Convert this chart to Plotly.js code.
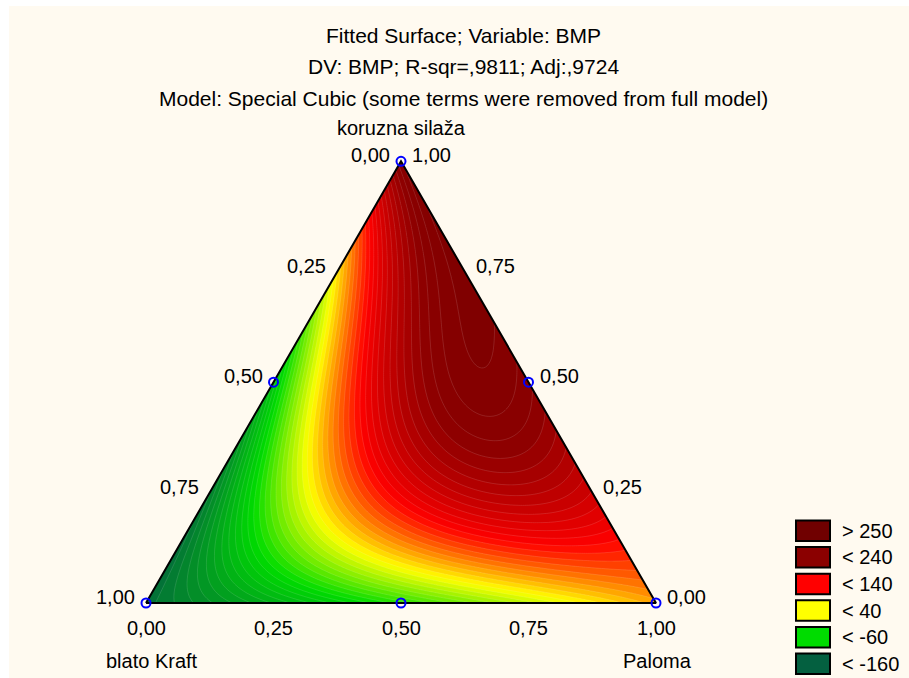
<!DOCTYPE html>
<html><head><meta charset="utf-8">
<script src="https://cdn.plot.ly/plotly-3.0.1.min.js"></script>
<style>html,body{margin:0;padding:0;background:#fff;} #chart{width:909px;height:678px;}</style>
</head><body><div id="chart"></div>
<script>
// ---------- data ----------
const titleLines = ['Fitted Surface; Variable: BMP', 'DV: BMP; R-sqr=,9811; Adj:,9724', 'Model: Special Cubic (some terms were removed from full model)'];
const componentNames = ['koruzna silaža', 'blato Kraft', 'Paloma']; // A = top, B = left, C = right
// fitted special cubic model
const coefLinear = [248, -175, 75];      // A, B, C
const coefQuad = [-490, 325, 20];        // A*B, A*C, B*C
const coefCubic = [4000];                // A*B*C
// design points (mixture fractions)
const designA = [1, 0, 0, 0.5, 0.5, 0];
const designB = [0, 1, 0, 0.5, 0, 0.5];
const designC = [0, 0, 1, 0, 0.5, 0.5];
// ternary tick labels
const tickValues = [0, 0.25, 0.5, 0.75, 1];
const tickLabels = ['0,00', '0,25', '0,50', '0,75', '1,00'];
// legend
const legendLabels = ['> 250', '< 240', '< 140', '< 40', '< -60', '< -160'];
const legendColors = ['#700000', '#8B0000', '#FF0000', '#FFFF00', '#00DC00', '#046040'];
// colour ramp of the surface
const levelValues = [-195, -60, 40, 140, 235, 265];
const levelColors = ['#046040', '#00DC00', '#FFFF00', '#FF0000', '#8E0000', '#800000'];

// ---------- helpers ----------
const H = Math.sqrt(3) / 2;
const tx = (a, b, c) => c + a / 2;
const ty = (a, b, c) => a * H;
function model(a, b, c) {
  return coefLinear[0] * a + coefLinear[1] * b + coefLinear[2] * c +
    coefQuad[0] * a * b + coefQuad[1] * a * c + coefQuad[2] * b * c +
    coefCubic[0] * a * b * c;
}
const FONT = 'Liberation Sans, Arial, sans-serif';
const CREAM = '#FFFAF0';

// grid for the fitted surface
const nx = 261, ny = 231;
const gx = [], gy = [], gz = [];
for (let i = 0; i < nx; i++) gx.push(i / (nx - 1));
for (let j = 0; j < ny; j++) gy.push(j / (ny - 1) * H);
for (let j = 0; j < ny; j++) {
  const row = [];
  const a = gy[j] / H;
  for (let i = 0; i < nx; i++) {
    const c = gx[i] - a / 2;
    const b = 1 - a - c;
    row.push(model(a, b, c));
  }
  gz.push(row);
}
const zmin = levelValues[0], zmax = levelValues[levelValues.length - 1];
const colorscale = levelValues.map((v, k) => [(v - zmin) / (zmax - zmin), levelColors[k]]);

const traces = [];
traces.push({
  type: 'contour', x: gx, y: gy, z: gz, zmin: zmin, zmax: zmax, colorscale: colorscale,
  showscale: false, hoverinfo: 'skip',
  contours: {coloring: 'fill', start: -400, end: 400, size: 10, showlines: true},
  line: {width: 0.6, color: 'rgba(255,255,255,0.22)', smoothing: 0}
});
// masks outside the triangle
const e = 0.03;
traces.push({
  type: 'scatter', mode: 'lines', fill: 'toself', fillcolor: CREAM, line: {width: 0}, hoverinfo: 'skip',
  x: [-e, 0, 0.5, 0.5, -e, -e, null, 1 + e, 1, 0.5, 0.5, 1 + e, 1 + e],
  y: [-e, 0, H, H + e, H + e, -e, null, -e, 0, H, H + e, H + e, -e]
});
// triangle outline
traces.push({
  type: 'scatter', mode: 'lines', hoverinfo: 'skip', line: {color: '#000', width: 2},
  x: [tx(0,1,0), tx(1,0,0), tx(0,0,1), tx(0,1,0)],
  y: [ty(0,1,0), ty(1,0,0), ty(0,0,1), ty(0,1,0)]
});
// design points
traces.push({
  type: 'scatter', mode: 'markers', hoverinfo: 'skip',
  x: designA.map((a, k) => tx(a, designB[k], designC[k])),
  y: designA.map((a, k) => ty(a, designB[k], designC[k])),
  marker: {symbol: 'circle-open', size: 9, color: '#0000FF', line: {width: 2, color: '#0000FF'}},
  cliponaxis: false
});

const ann = [];
const tf = {family: FONT, size: 20, color: '#000'};
// left edge (blato Kraft fraction)
tickValues.forEach((v, k) => {
  const a = 1 - v;
  ann.push({xref: 'x', yref: 'y', x: tx(a, v, 0), y: ty(a, v, 0), text: tickLabels[k], showarrow: false,
    xanchor: 'right', yanchor: 'middle', xshift: -9, yshift: 6, font: tf});
});
// right edge (koruzna silaža fraction)
tickValues.forEach((v, k) => {
  ann.push({xref: 'x', yref: 'y', x: tx(v, 0, 1 - v), y: ty(v, 0, 1 - v), text: tickLabels[k], showarrow: false,
    xanchor: 'left', yanchor: 'middle', xshift: 9, yshift: 6, font: tf});
});
// bottom edge (Paloma fraction)
tickValues.forEach((v, k) => {
  ann.push({xref: 'x', yref: 'y', x: tx(0, 1 - v, v), y: 0, text: tickLabels[k], showarrow: false,
    xanchor: 'center', yanchor: 'middle', yshift: -25, font: tf});
});
// component names
ann.push({xref: 'x', yref: 'y', x: tx(1,0,0), y: ty(1,0,0), text: componentNames[0], showarrow: false,
  xanchor: 'center', yanchor: 'middle', yshift: 33, font: tf});
ann.push({xref: 'x', yref: 'y', x: tx(0,1,0), y: 0, text: componentNames[1], showarrow: false,
  xanchor: 'center', yanchor: 'middle', xshift: 6, yshift: -58, font: tf});
ann.push({xref: 'x', yref: 'y', x: tx(0,0,1), y: 0, text: componentNames[2], showarrow: false,
  xanchor: 'center', yanchor: 'middle', xshift: 1, yshift: -58, font: tf});
// title lines
const titleY = [35, 66, 98];
titleLines.forEach((t, k) => {
  ann.push({xref: 'paper', yref: 'paper', x: 463 / 909, y: 1 - titleY[k] / 678, text: t, showarrow: false,
    xanchor: 'center', yanchor: 'middle', font: {family: FONT, size: 21, color: '#000'}});
});

// legend swatches
const shapes = [{type: 'rect', xref: 'paper', yref: 'paper', x0: 9 / 909, x1: 1, y0: 0, y1: 1 - 6 / 678,
  fillcolor: CREAM, line: {width: 0}, layer: 'below'}];
const legTop = 520.5, legStep = 26.6, legH = 20.5;
legendLabels.forEach((lab, k) => {
  const y0 = legTop + k * legStep;
  shapes.push({type: 'rect', xref: 'paper', yref: 'paper', x0: 796 / 909, x1: 830 / 909,
    y0: 1 - (y0 + legH) / 678, y1: 1 - y0 / 678, fillcolor: legendColors[k], line: {color: '#000', width: 2}});
  ann.push({xref: 'paper', yref: 'paper', x: 840 / 909, y: 1 - (y0 + legH / 2) / 678, text: lab, showarrow: false,
    xanchor: 'left', yanchor: 'middle', font: tf});
});

const layout = {
  width: 909, height: 678, margin: {l: 0, r: 0, t: 0, b: 0, pad: 0},
  paper_bgcolor: '#FFFFFF', plot_bgcolor: 'rgba(0,0,0,0)', showlegend: false,
  xaxis: {range: [-146 / 510, 763 / 510], visible: false, fixedrange: true},
  yaxis: {range: [-75 / 510, 603 / 510], visible: false, fixedrange: true},
  annotations: ann, shapes: shapes
};
Plotly.newPlot('chart', traces, layout, {displayModeBar: false, staticPlot: true});
</script>
</body></html>
